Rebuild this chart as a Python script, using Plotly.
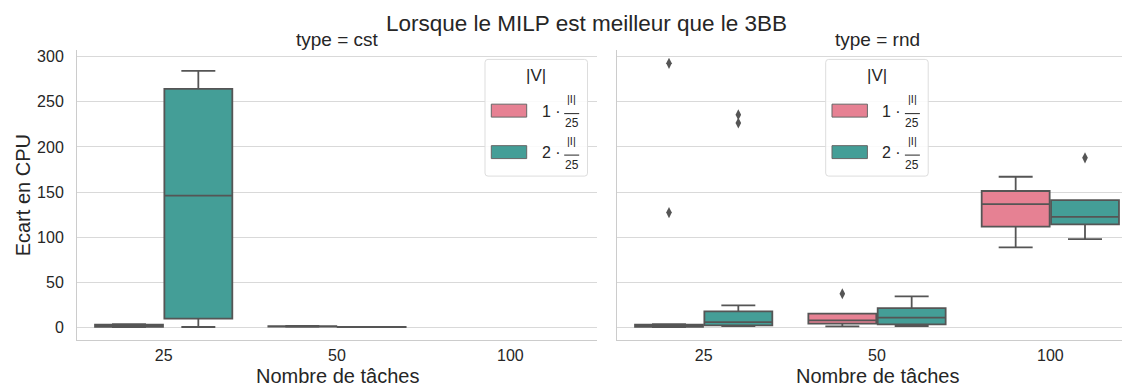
import plotly.graph_objects as go

# ---- data ---------------------------------------------------------------
nb_taches = ["25", "50", "100"]
facets = ["cst", "rnd"]
hue_names = ["1", "2"]

# box statistics per task count: (lower whisker, q1, median, q3, upper whisker)
cst_v1 = [(0.2, 0.5, 1.5, 3.0, 3.4), (0.4, 0.7, 1.0, 1.3, 1.6), None]
cst_v2 = [(0.3, 9.6, 145.9, 264.4, 284.3), (0.1, 0.2, 0.3, 0.4, 0.5), None]
rnd_v1 = [(0.2, 0.5, 1.5, 3.0, 3.5), (1.1, 4.1, 7.7, 15.1, 15.1), (88.6, 111.7, 136.5, 151.1, 166.9)]
rnd_v2 = [(1.4, 2.2, 5.8, 17.6, 24.3), (1.4, 3.3, 10.7, 21.3, 34.2), (97.8, 114.0, 122.4, 140.9, 140.9)]

# outliers per task count
cst_v1_out = [[], [], []]
cst_v2_out = [[], [], []]
rnd_v1_out = [[292.7, 127.2], [37.2], []]
rnd_v2_out = [[235.7, 226.5], [], [187.9]]

# ---- style --------------------------------------------------------------
W, H = 1122, 387
FONT = "Liberation Sans, Arial, sans-serif"
TXT = "#262626"
COLORS = ["#E68193", "#449E97"]
EDGE = "#555555"
GRID = "#d9d9d9"
SPINE = "#cccccc"

# pixel frame of the two panels
PANEL_TOP, PANEL_BOTTOM = 48.5, 340.2
LEFT_X0, LEFT_X1 = 77, 597
RIGHT_X0 = 617
CAT_PX = (LEFT_X1 - LEFT_X0) / 3.0


def px(x):
    return x / W


def py(y):
    return 1 - y / H


fig = go.Figure()

series = {
    "cst": [(cst_v1, cst_v1_out), (cst_v2, cst_v2_out)],
    "rnd": [(rnd_v1, rnd_v1_out), (rnd_v2, rnd_v2_out)],
}
offsets = [-0.2, 0.2]
box_w = 0.392

for fi, facet in enumerate(facets):
    xa = "x" if fi == 0 else "x2"
    ya = "y" if fi == 0 else "y2"
    for hi, (stats, outs) in enumerate(series[facet]):
        xs, lo, q1, med, q3, hi_ = [], [], [], [], [], []
        for ci, s in enumerate(stats):
            if s is None:
                continue
            xs.append(ci + offsets[hi])
            lo.append(s[0]); q1.append(s[1]); med.append(s[2]); q3.append(s[3]); hi_.append(s[4])
        fig.add_trace(go.Box(
            x=xs, lowerfence=lo, q1=q1, median=med, q3=q3, upperfence=hi_,
            width=box_w, whiskerwidth=0.5, fillcolor=COLORS[hi],
            line=dict(color=EDGE, width=1.8), boxpoints=False,
            xaxis=xa, yaxis=ya, showlegend=False, hoverinfo="skip",
        ))
        ox, oy = [], []
        for ci, pts in enumerate(outs):
            for v in pts:
                ox.append(ci + offsets[hi]); oy.append(v)
        if ox:
            fig.add_trace(go.Scatter(
                x=ox, y=oy, mode="markers", xaxis=xa, yaxis=ya,
                marker=dict(symbol="diamond-tall", size=8, color=EDGE,
                            line=dict(width=0)),
                showlegend=False, hoverinfo="skip",
            ))

yrange = [-14.6, 307.2]
right_span = 3.0 * (W - RIGHT_X0) / (LEFT_X1 - LEFT_X0)

common_x = dict(
    tickmode="array", tickvals=[0, 1, 2], ticktext=nb_taches,
    showgrid=False, zeroline=False, showline=True, linecolor=SPINE, linewidth=1,
    ticks="", ticklabelstandoff=0,
    tickfont=dict(family=FONT, size=16, color=TXT),
)
common_y = dict(
    range=yrange, tickvals=[0, 50, 100, 150, 200, 250, 300],
    showgrid=True, gridcolor=GRID, gridwidth=1, zeroline=False,
    showline=True, linecolor=SPINE, linewidth=1, ticks="",
    tickfont=dict(family=FONT, size=16, color=TXT),
)

fig.update_layout(
    width=W, height=H, margin=dict(l=0, r=0, t=0, b=0),
    paper_bgcolor="white", plot_bgcolor="white",
    boxmode="overlay", showlegend=False,
    xaxis=dict(domain=[px(LEFT_X0), px(LEFT_X1)], range=[-0.5, 2.5], anchor="y", **common_x),
    xaxis2=dict(domain=[px(RIGHT_X0), 1.0], range=[-0.5, -0.5 + right_span], anchor="y2", **common_x),
    yaxis=dict(domain=[py(PANEL_BOTTOM), py(PANEL_TOP)], anchor="x",
               showticklabels=True, ticklabelstandoff=9, **common_y),
    yaxis2=dict(domain=[py(PANEL_BOTTOM), py(PANEL_TOP)], anchor="x2",
                showticklabels=False, **common_y),
)

ann = []


def text(x, y, s, size, **kw):
    d = dict(x=px(x), y=py(y), xref="paper", yref="paper", text=s, showarrow=False,
             font=dict(family=FONT, size=size, color=TXT),
             xanchor=kw.pop("xanchor", "center"), yanchor=kw.pop("yanchor", "middle"))
    d.update(kw)
    ann.append(d)


# titles
text(586, 22, "Lorsque le MILP est meilleur que le 3BB", 22.5)
text((LEFT_X0 + LEFT_X1) / 2, 38, "type = cst", 19)
text(RIGHT_X0 + 1.5 * CAT_PX, 38, "type = rnd", 19)

# axis titles
text(23, (PANEL_TOP + PANEL_BOTTOM) / 2, "Ecart en CPU", 20, textangle=-90)
text((LEFT_X0 + LEFT_X1) / 2, 376, "Nombre de tâches", 20)
text(RIGHT_X0 + 1.5 * CAT_PX, 376, "Nombre de tâches", 20)

# legends drawn in each panel
shapes = []


def rounded_box(x0, y0, x1, y1, r=3):
    X0, X1 = px(x0), px(x1)
    Y0, Y1 = py(y0), py(y1)
    rx, ry = r / W, r / H
    path = (f"M{X0 + rx},{Y0} L{X1 - rx},{Y0} Q{X1},{Y0} {X1},{Y0 - ry} "
            f"L{X1},{Y1 + ry} Q{X1},{Y1} {X1 - rx},{Y1} "
            f"L{X0 + rx},{Y1} Q{X0},{Y1} {X0},{Y1 + ry} "
            f"L{X0},{Y0 - ry} Q{X0},{Y0} {X0 + rx},{Y0} Z")
    return dict(type="path", path=path, xref="paper", yref="paper",
                line=dict(color="#dddddd", width=1), fillcolor="rgba(255,255,255,0.85)",
                layer="above")


for lx in (485, 825.7):
    shapes.append(rounded_box(lx, 57.7, lx + 102.5, 175))
    text(lx + 51.2, 74, "|V|", 17)
    for k, hname in enumerate(hue_names):
        yc = 109.2 + k * 41.7
        shapes.append(dict(type="rect", xref="paper", yref="paper",
                           x0=px(lx + 6.3), x1=px(lx + 41.7), y0=py(yc - 6.5), y1=py(yc + 6.5),
                           fillcolor=COLORS[k], line=dict(color="#666666", width=1),
                           layer="above"))
        text(lx + 54.5, yc + 0.5, f"{hname} ·", 16, xanchor="left")
        fx = lx + 86.7
        text(fx, yc - 3.5, "|I|", 11, yanchor="bottom")
        shapes.append(dict(type="line", xref="paper", yref="paper",
                           x0=px(fx - 7.5), x1=px(fx + 7.5), y0=py(yc + 3), y1=py(yc + 3),
                           line=dict(color=TXT, width=1), layer="above"))
        text(fx, yc + 3.5, "25", 12, yanchor="top")

fig.update_layout(annotations=ann, shapes=shapes)
fig.write_html("out.html")
